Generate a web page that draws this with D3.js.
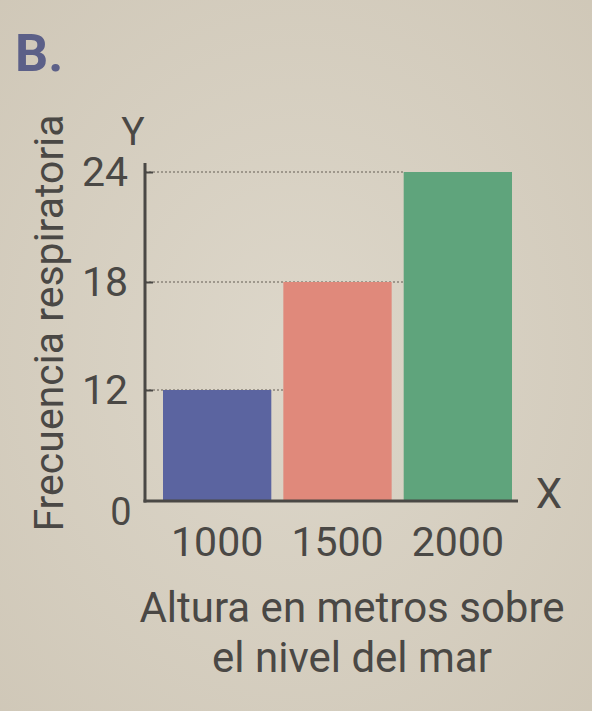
<!DOCTYPE html>
<html><head><meta charset="utf-8">
<script src="https://cdn.jsdelivr.net/npm/d3@7"></script>
<style>
html,body{margin:0;padding:0;background:#d7d0c2;}
svg{display:block;}
text{font-family:Roboto,"Open Sans",sans-serif;fill:#4a4845;}
</style></head><body>
<svg id="c" width="592" height="711"></svg>
<script>
const categories = ["1000", "1500", "2000"];
const values = [12, 18, 24];
const barColors = ["#5b64a0", "#e0897b", "#5fa47c"];
const yTicks = [0, 12, 18, 24];
const yTitle = "Frecuencia respiratoria";
const xTitleLines = ["Altura en metros sobre", "el nivel del mar"];

const svg = d3.select("#c");
const defs = svg.append("defs");
const g1 = defs.append("radialGradient").attr("id","paper").attr("cx","50%").attr("cy","50%").attr("r","75%");
g1.append("stop").attr("offset","0%").attr("stop-color","#ddd7ca");
g1.append("stop").attr("offset","100%").attr("stop-color","#cfc7b7");
svg.append("rect").attr("width",592).attr("height",711).attr("fill","url(#paper)");

const x0 = 145, yBase = 501;
const x = d3.scaleBand().domain(categories).range([163, 512]).paddingInner(0.1).paddingOuter(0);
// the printed axis spaces its ticks 0, 12, 18, 24 evenly
const y = d3.scaleLinear().domain(yTicks).range([yBase, 390, 282, 172]);

const gridEnds = {24: 404, 18: 404, 12: 283};
svg.append("g").selectAll("line").data(yTicks.filter(d => d > 0)).join("line")
  .attr("x1", x0).attr("x2", d => gridEnds[d])
  .attr("y1", d => y(d)).attr("y2", d => y(d))
  .attr("stroke", "#8a847a").attr("stroke-width", 1.3).attr("stroke-dasharray", "2,2");

svg.append("g").selectAll("rect").data(values).join("rect")
  .attr("x", (d, i) => x(categories[i]))
  .attr("width", x.bandwidth())
  .attr("y", d => y(d))
  .attr("height", d => yBase - y(d))
  .attr("fill", (d, i) => barColors[i]);

const yAxis = d3.axisLeft(y).tickValues(yTicks.filter(d => d > 0)).tickSize(-8).tickPadding(17).tickFormat(d3.format("d"));
const ya = svg.append("g").attr("transform", `translate(${x0},0)`).call(yAxis);
ya.select(".domain").remove();
ya.selectAll(".tick line").attr("stroke", "#4a4845").attr("stroke-width", 2);
ya.selectAll(".tick text").attr("font-size", 41).style("font-family","Roboto,sans-serif").attr("fill","#4a4845");

svg.append("line").attr("x1", x0).attr("x2", x0).attr("y1", 163).attr("y2", yBase + 1.5)
  .attr("stroke", "#4a4845").attr("stroke-width", 3);
svg.append("line").attr("x1", x0 - 1.5).attr("x2", 518).attr("y1", yBase).attr("y2", yBase)
  .attr("stroke", "#4a4845").attr("stroke-width", 3);

const xAxis = d3.axisBottom(x).tickSize(0).tickPadding(26);
const xa = svg.append("g").attr("transform", `translate(0,${yBase})`).call(xAxis);
xa.select(".domain").remove();
xa.selectAll(".tick text").attr("font-size", 41).style("font-family","Roboto,sans-serif").attr("fill","#4a4845");

svg.append("text").attr("x", 121).attr("y", 525).attr("text-anchor","middle").attr("font-size", 38).text(yTicks[0]);
svg.append("text").attr("x", 133).attr("y", 145).attr("text-anchor","middle").attr("font-size", 39).text("Y");
svg.append("text").attr("x", 549).attr("y", 508).attr("text-anchor","middle").attr("font-size", 42).text("X");

svg.append("text").attr("transform", "translate(63,323) rotate(-90)").attr("text-anchor","middle")
  .attr("font-size", 41).text(yTitle);
svg.append("g").selectAll("text").data(xTitleLines).join("text")
  .attr("x", 352).attr("y", (d, i) => 622 + i * 50).attr("text-anchor","middle")
  .attr("font-size", 42).text(d => d);

svg.append("text").attr("x", 15).attr("y", 71).attr("font-size", 52).attr("font-weight","bold")
  .style("fill", "#5c6088").text("B.");
</script>
</body></html>
